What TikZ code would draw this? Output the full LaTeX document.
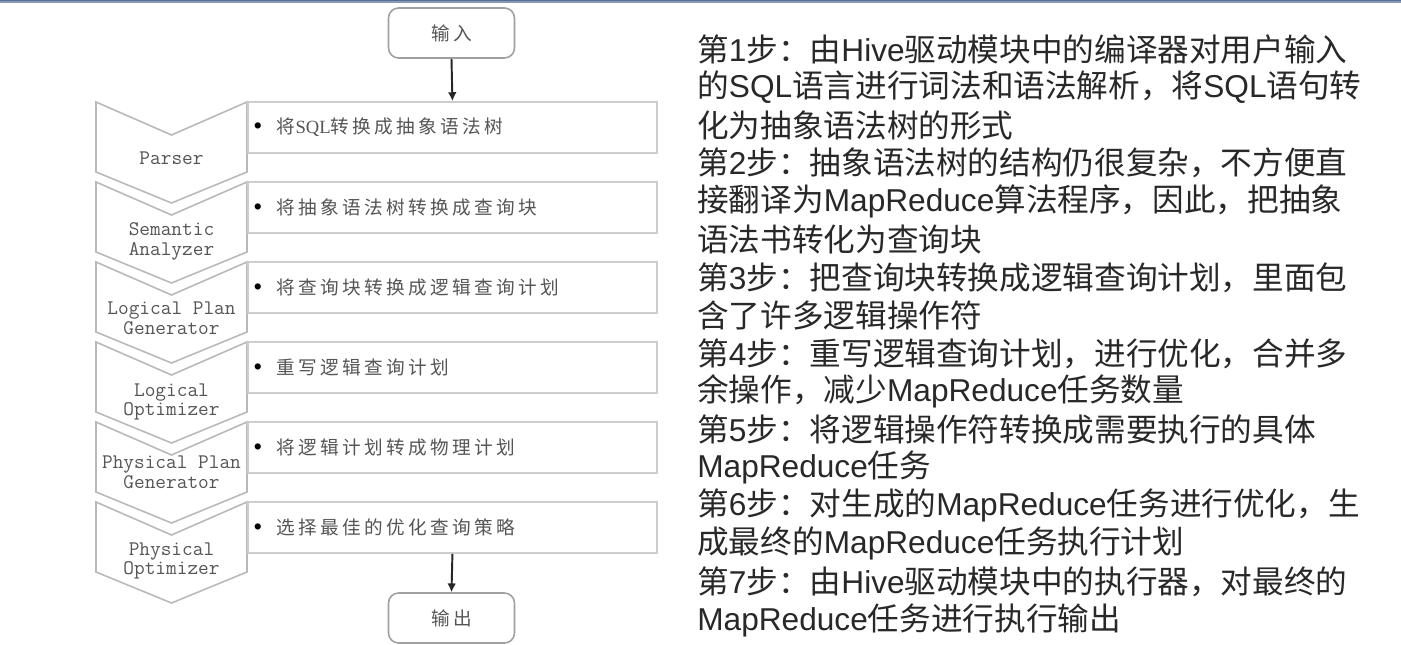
\documentclass[tikz,border=0pt]{standalone}
\usepackage{fontspec}
\setmainfont{Noto Sans CJK SC}
\newfontfamily\arial{Liberation Sans}
\newfontfamily\serifw{Liberation Serif}
\newfontfamily\songti[LetterSpace=18]{Noto Sans CJK SC}
\usetikzlibrary{arrows.meta}

\definecolor{topbar}{RGB}{84,110,148}
\definecolor{boxline}{RGB}{205,205,205}
\definecolor{chevline}{RGB}{185,185,185}
\definecolor{endline}{RGB}{160,160,160}
\definecolor{labelgray}{RGB}{85,85,85}
\definecolor{stepgray}{RGB}{40,40,40}

\newcommand\enw[1]{{\arial #1}}
\newcommand\sqlw{{\serifw SQL}}
\newcommand\dotw{{\arial\color{black}\fontsize{13}{13}\selectfont\textbullet}}

\begin{document}
\begin{tikzpicture}[x=0.02cm,y=-0.02cm,
    chevron/.style={draw=chevline, line width=0.9pt, fill=white},
    stagebox/.style={draw=boxline, line width=1.1pt, fill=white, anchor=west,
        minimum width=8.18cm, minimum height=1.02cm, inner xsep=0.12cm,
        text width=7.94cm, align=left, text=labelgray,
        font=\songti\fontsize{10.6}{11}\selectfont},
    stagelabel/.style={align=center, text=labelgray, inner sep=0pt,
        font=\ttfamily\fontsize{11.8}{11.3}\selectfont},
    endbox/.style={draw=endline, line width=0.9pt, rounded corners=0.2cm, fill=white,
        minimum width=2.52cm, minimum height=1cm, text=labelgray,
        font=\songti\fontsize{10.6}{12}\selectfont},
    flow/.style={-{Latex[length=5pt,width=5pt]}, line width=1.1pt, draw=black!85},
    stepline/.style={anchor=west, inner sep=0pt, text=stepgray,
        font=\fontsize{18}{21.5}\selectfont}
]
    \useasboundingbox (0,0) rectangle (1401,645);
    \fill[white] (0,0) rectangle (1401,645);
    \fill[topbar!70] (0,0) rectangle (1401,3.5);
    \fill[topbar] (0,0) rectangle (1401,1.5);

    % stages
    \foreach \t/\lbl/\ly/\txt [count=\i] in {
        102/{Parser}/158/{将\sqlw 转换成抽象语法树},
        182/{Semantic\\Analyzer}/241/{将抽象语法树转换成查询块},
        262/{Logical Plan\\Generator}/318/{将查询块转换成逻辑查询计划},
        342/{Logical\\Optimizer}/402/{重写逻辑查询计划},
        422/{Physical Plan\\Generator}/472/{将逻辑计划转成物理计划},
        502/{Physical\\Optimizer}/561/{选择最佳的优化查询策略}} {
        \draw[chevron] (96,\t) -- (171.5,\t+33) -- (247,\t) -- (247,\t+70)
            -- (171.5,\t+101) -- (96,\t+70) -- cycle;
        \node[stagelabel] (lbl\i) at (171.5,\ly) {\lbl};
        \node[stagebox] (s\i) at (247,\t+25.5) {\dotw\hspace{0.3cm}\txt};
    }

    % input / output
    \node[endbox] (in) at (451.5,33) {输入};
    \node[endbox] (out) at (451.5,618) {输出};
    \draw[flow] (in.south) -- (s1.north);
    \draw[flow] (s6.south) -- (out.north);

    % steps
    \foreach \txt [count=\i from 0] in {
        {第\enw{1}步：由\enw{Hive}驱动模块中的编译器对用户输入},
        {的\enw{SQL}语言进行词法和语法解析，将\enw{SQL}语句转},
        {化为抽象语法树的形式},
        {第\enw{2}步：抽象语法树的结构仍很复杂，不方便直},
        {接翻译为\enw{MapReduce}算法程序，因此，把抽象},
        {语法书转化为查询块},
        {第\enw{3}步：把查询块转换成逻辑查询计划，里面包},
        {含了许多逻辑操作符},
        {第\enw{4}步：重写逻辑查询计划，进行优化，合并多},
        {余操作，减少\enw{MapReduce}任务数量},
        {第\enw{5}步：将逻辑操作符转换成需要执行的具体},
        {\enw{MapReduce}任务},
        {第\enw{6}步：对生成的\enw{MapReduce}任务进行优化，生},
        {成最终的\enw{MapReduce}任务执行计划},
        {第\enw{7}步：由\enw{Hive}驱动模块中的执行器，对最终的},
        {\enw{MapReduce}任务进行执行输出}} {
        \node[stepline] (step\i) at (697,49+38.07*\i) {\txt};
    }
\end{tikzpicture}
\end{document}
